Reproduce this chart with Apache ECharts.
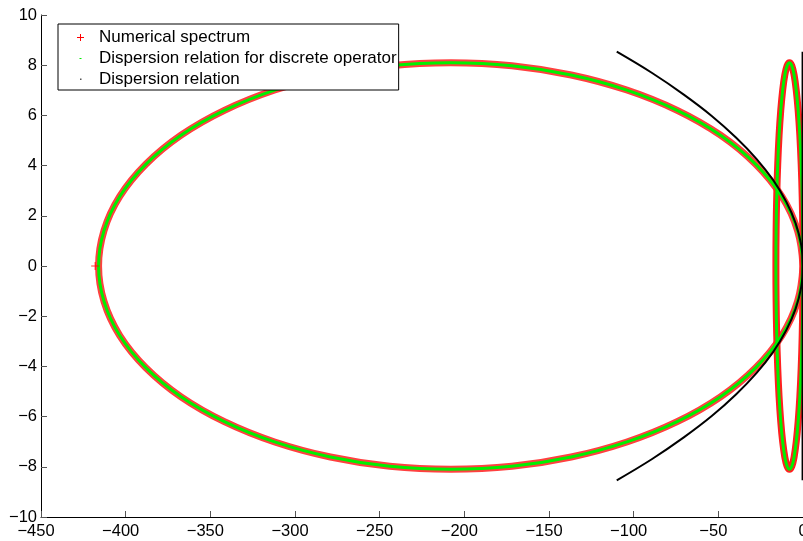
<!DOCTYPE html>
<html>
<head>
<meta charset="utf-8">
<script src="https://cdn.jsdelivr.net/npm/echarts@6/dist/echarts.min.js"></script>
<style>
html,body{margin:0;padding:0;background:#fff;}
#chart{width:803px;height:541px;}
</style>
</head>
<body>
<div id="chart"></div>
<script>
// Large ellipse (numerical spectrum & discrete dispersion relation), read every 10 degrees
var bigEllipseX = [0, -3.2, -12.5, -27.9, -48.7, -74.3, -104, -136.9, -171.9, -208, -244.1, -279.1, -312, -341.7, -367.3, -388.1, -403.5, -412.8, -416, -412.8, -403.5, -388.1, -367.3, -341.7, -312, -279.1, -244.1, -208, -171.9, -136.9, -104, -74.3, -48.7, -27.9, -12.5, -3.2, 0];
var bigEllipseY = [0, 1.41, 2.77, 4.05, 5.21, 6.2, 7.01, 7.61, 7.98, 8.1, 7.98, 7.61, 7.01, 6.2, 5.21, 4.05, 2.77, 1.41, 0, -1.41, -2.77, -4.05, -5.21, -6.2, -7.01, -7.61, -7.98, -8.1, -7.98, -7.61, -7.01, -6.2, -5.21, -4.05, -2.77, -1.41, 0];
// Narrow ellipse near the imaginary axis
var smallEllipseX = [0, -0.12, -0.48, -1.07, -1.87, -2.86, -4, -5.26, -6.61, -8, -9.39, -10.74, -12, -13.14, -14.13, -14.93, -15.52, -15.88, -16, -15.88, -15.52, -14.93, -14.13, -13.14, -12, -10.74, -9.39, -8, -6.61, -5.26, -4, -2.86, -1.87, -1.07, -0.48, -0.12, 0];
var smallEllipseY = [0, 1.41, 2.77, 4.05, 5.21, 6.2, 7.01, 7.61, 7.98, 8.1, 7.98, 7.61, 7.01, 6.2, 5.21, 4.05, 2.77, 1.41, 0, -1.41, -2.77, -4.05, -5.21, -6.2, -7.01, -7.61, -7.98, -8.1, -7.98, -7.61, -7.01, -6.2, -5.21, -4.05, -2.77, -1.41, 0];
// Isolated numerical eigenvalue at the left tip
var outlierX = [-418];
var outlierY = [0];
// Continuous dispersion relation (parabola)
var parabolaX = [-110, -89.1, -70.4, -53.9, -39.6, -27.5, -17.6, -9.9, -4.4, -1.1, 0, -1.1, -4.4, -9.9, -17.6, -27.5, -39.6, -53.9, -70.4, -89.1, -110];
var parabolaY = [8.54, 7.69, 6.83, 5.98, 5.12, 4.27, 3.42, 2.56, 1.71, 0.85, 0, -0.85, -1.71, -2.56, -3.42, -4.27, -5.12, -5.98, -6.83, -7.69, -8.54];
// Second branch (near-vertical line at the right edge)
var branchX = [-0.4, -0.4];
var branchY = [8.54, -8.54];

var seriesNames = ['Numerical spectrum', 'Dispersion relation for discrete operator', 'Dispersion relation'];
var xTicks = {min: -450, max: 0, step: 50};
var yTicks = {min: -10, max: 10, step: 2};

function zip(xs, ys) { return xs.map(function (x, i) { return [x, ys[i]]; }); }
function minusFmt(v) { return v < 0 ? '\u2212' + (-v) : String(v); }

var FONT = '"Liberation Sans", Arial, Helvetica, sans-serif';
var plusPath = 'path://M3,0L4,0L4,3L7,3L7,4L4,4L4,7L3,7L3,4L0,4L0,3L3,3Z';
var greenIcon = 'path://M0,0M7,7M2.5,3L4.5,3L4.5,4L2.5,4Z';
var grayIcon = 'path://M0,0M7,7M3,2.5L4.5,2.5L4.5,4L3,4Z';

var chart = echarts.init(document.getElementById('chart'), null, {renderer: 'canvas'});
chart.setOption({
  animation: false,
  backgroundColor: '#fff',
  grid: {left: 41, right: 0, top: 15, bottom: 24, containLabel: false, outerBoundsMode: 'none'},
  xAxis: {
    type: 'value', min: xTicks.min, max: xTicks.max, interval: xTicks.step,
    splitLine: {show: false},
    axisLine: {onZero: false, lineStyle: {color: '#000', width: 1}},
    axisTick: {inside: true, length: 6, lineStyle: {color: '#555'}},
    axisLabel: {
      margin: 6, color: '#000', fontSize: 16.5, fontFamily: FONT, hideOverlap: false,
      formatter: function (v) { return v < 0 ? '{n|' + minusFmt(v) + '}' : '{z|' + v + '}'; },
      rich: {
        n: {fontSize: 16.5, fontFamily: FONT, color: '#000', padding: [0, 10, 0, 0]},
        z: {fontSize: 16.5, fontFamily: FONT, color: '#000'}
      }
    }
  },
  yAxis: {
    type: 'value', min: yTicks.min, max: yTicks.max, interval: yTicks.step,
    splitLine: {show: false},
    axisLine: {onZero: false, lineStyle: {color: '#000', width: 1}},
    axisTick: {inside: true, length: 6, lineStyle: {color: '#555'}},
    axisLabel: {margin: 4, color: '#000', fontSize: 16.5, fontFamily: FONT, formatter: minusFmt, hideOverlap: false}
  },
  legend: {
    left: 58, top: 24, orient: 'vertical', selectedMode: false, z: 20,
    backgroundColor: '#fff', borderColor: '#000', borderWidth: 1,
    padding: [5, 2, 2, 19], itemWidth: 27, itemHeight: 7, itemGap: 4,
    itemStyle: {borderWidth: 0},
    textStyle: {fontSize: 17, fontFamily: FONT, color: '#000', lineHeight: 17},
    data: [
      {name: seriesNames[0], icon: plusPath, itemStyle: {color: '#ff0000', borderWidth: 0}},
      {name: seriesNames[1], icon: greenIcon, itemStyle: {color: '#00ee00', borderWidth: 0}},
      {name: seriesNames[2], icon: grayIcon, itemStyle: {color: '#555555', borderWidth: 0}}
    ]
  },
  series: [
    {name: seriesNames[0], type: 'line', data: zip(bigEllipseX, bigEllipseY), smooth: 0.4, showSymbol: false, symbol: 'none',
     itemStyle: {color: '#ff0000'}, lineStyle: {color: '#ff4040', width: 7}, z: 1},
    {name: seriesNames[0], type: 'line', data: zip(smallEllipseX, smallEllipseY), smooth: 0.4, showSymbol: false, symbol: 'none',
     itemStyle: {color: '#ff0000'}, lineStyle: {color: '#ff2020', width: 7}, z: 1},
    {name: seriesNames[1], type: 'line', data: zip(bigEllipseX, bigEllipseY), smooth: 0.4, showSymbol: false, symbol: 'none',
     itemStyle: {color: '#00ee00'}, lineStyle: {color: '#00f000', width: 3}, z: 2},
    {name: seriesNames[1], type: 'line', data: zip(smallEllipseX, smallEllipseY), smooth: 0.4, showSymbol: false, symbol: 'none',
     itemStyle: {color: '#00ee00'}, lineStyle: {color: '#00f000', width: 3}, z: 2},
    {name: seriesNames[0], type: 'scatter', data: zip(outlierX, outlierY), symbol: plusPath, symbolSize: 8,
     itemStyle: {color: '#ff0000'}, z: 3},
    {name: seriesNames[2], type: 'line', data: zip(parabolaX, parabolaY), smooth: 0.4, showSymbol: false, symbol: 'none',
     itemStyle: {color: '#555555'}, lineStyle: {color: '#000', width: 2}, z: 3},
    {name: seriesNames[2], type: 'line', data: zip(branchX, branchY), showSymbol: false, symbol: 'none',
     itemStyle: {color: '#555555'}, lineStyle: {color: '#000', width: 1.5}, z: 3}
  ]
});
</script>
</body>
</html>
